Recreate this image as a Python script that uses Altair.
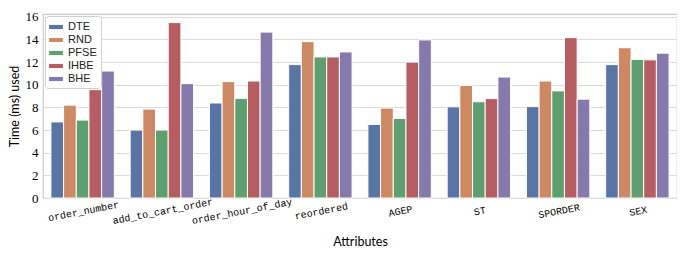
import altair as alt
import pandas as pd

attributes = ["order_number", "add_to_cart_order", "order_hour_of_day", "reordered",
              "AGEP", "ST", "SPORDER", "SEX"]
methods = ["DTE", "RND", "PFSE", "IHBE", "BHE"]
colors = ["#5975a4", "#cc8963", "#5f9e6e", "#b55d60", "#857aab"]

dte  = [6.72, 6.00, 8.39, 11.78, 6.50, 8.05, 8.07, 11.78]
rnd  = [8.20, 7.85, 10.28, 13.81, 7.94, 9.93, 10.33, 13.27]
pfse = [6.88, 6.00, 8.80, 12.46, 7.02, 8.50, 9.46, 12.24]
ihbe = [9.57, 15.49, 10.33, 12.46, 12.00, 8.78, 14.16, 12.20]
bhe  = [11.21, 10.10, 14.65, 12.90, 13.96, 10.68, 8.73, 12.79]

series = {"DTE": dte, "RND": rnd, "PFSE": pfse, "IHBE": ihbe, "BHE": bhe}
rows = []
for m in methods:
    for a, v in zip(attributes, series[m]):
        rows.append({"Attribute": a, "Method": m, "Time": v})
df = pd.DataFrame(rows)

sans = "Lato"

chart = alt.Chart(df).mark_bar(stroke="white", strokeWidth=1).encode(
    x=alt.X("Attribute:N", sort=attributes, title="Attributes",
            scale=alt.Scale(paddingInner=0.2, paddingOuter=0.1),
            axis=alt.Axis(labelAngle=-11, labelAlign="center", labelBaseline="top",
                          labelFont="Liberation Mono", labelFontSize=10,
                          labelColor="#000000", ticks=False, domain=False, grid=False,
                          labelPadding=8, titleFont=sans, titleFontSize=12.5,
                          titleFontWeight="normal", titleColor="#000000", titlePadding=10)),
    xOffset=alt.XOffset("Method:N", sort=methods, scale=alt.Scale(domain=methods, paddingInner=0, paddingOuter=0)),
    y=alt.Y("Time:Q", title="Time (ms) used",
            scale=alt.Scale(domain=[0, 16.25], nice=False, zero=True),
            axis=alt.Axis(values=list(range(0, 17, 2)), labelFont="Liberation Serif", labelFontSize=13,
                          labelColor="#000000", ticks=False, domain=False, grid=True,
                          gridColor="#dcdcdc", gridWidth=1, labelPadding=5,
                          titleFont=sans, titleFontSize=12.5, titleFontWeight="normal",
                          titleColor="#000000", titlePadding=4)),
    color=alt.Color("Method:N", sort=methods,
                    scale=alt.Scale(domain=methods, range=colors),
                    legend=alt.Legend(title=None, orient="top-left", offset=2,
                                      labelFont="Liberation Sans", labelFontSize=11,
                                      labelColor="#222222",
                                      symbolType="M-1,-0.3H1V0.3H-1Z", symbolSize=190,
                                      symbolStrokeWidth=0, rowPadding=1, labelOffset=5,
                                      fillColor="white", strokeColor="#d0d0d0",
                                      cornerRadius=3, padding=4)),
).properties(
    width=669, height=241,
    autosize=alt.AutoSizeParams(type="fit", contains="padding"),
    padding={"left": 0, "top": 3, "right": 0, "bottom": 0},
).configure_view(stroke="#cccccc", strokeWidth=1.2)

chart.save("out.html", embed_options={"renderer": "svg", "actions": False})
